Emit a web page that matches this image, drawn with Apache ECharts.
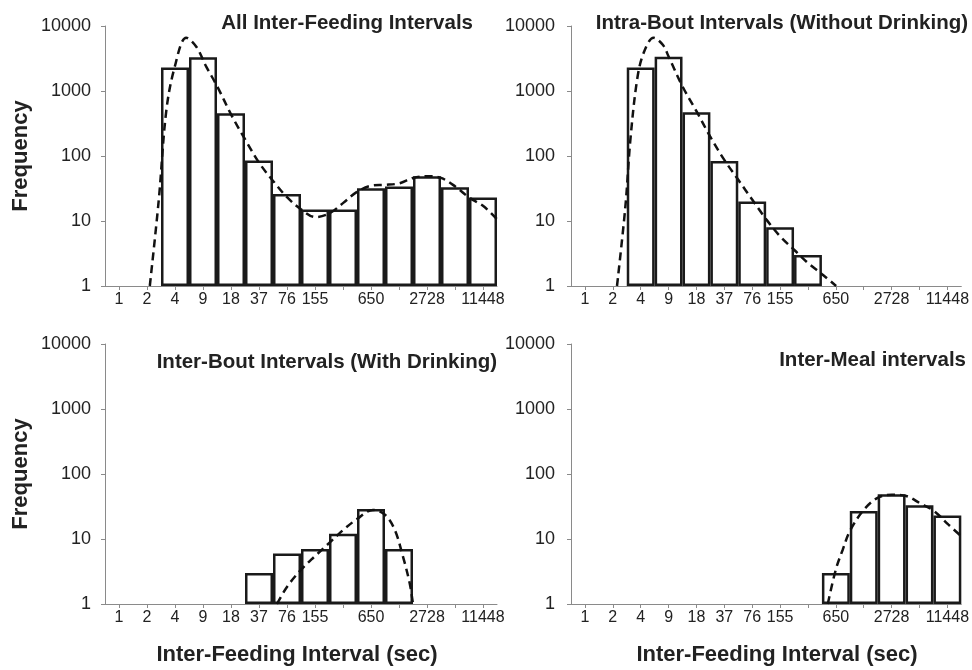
<!DOCTYPE html>
<html>
<head>
<meta charset="utf-8">
<script src="https://cdn.jsdelivr.net/npm/echarts@6/dist/echarts.min.js"></script>
<style>
html,body{margin:0;padding:0;background:#fff;}
#chart{width:972px;height:670px;}
</style>
</head>
<body>
<div id="chart"></div>
<script>
// ---- data ----
const categories = ['1','2','4','9','18','37','76','155','317','650','1332','2728','5588','11448'];
const hiddenLabels = [8, 10, 12];
const yTicks = [1, 10, 100, 1000, 10000];

const panelTitles = [
  'All Inter-Feeding Intervals',
  'Intra-Bout Intervals (Without Drinking)',
  'Inter-Bout Intervals (With Drinking)',
  'Inter-Meal intervals'
];
const yAxisTitle = 'Frequency';
const xAxisTitle = 'Inter-Feeding Interval (sec)';

const allBars      = [null, null, 2300, 3300, 455, 85, 26, 15, 15, 32, 34, 49, 33, 23];
const intraBars    = [null, null, 2300, 3350, 470, 84, 20, 8, 3, null, null, null, null, null];
const interBoutBars= [null, null, null, null, null, 3, 6, 7, 12, 29, 7, null, null, null];
const interMealBars= [null, null, null, null, null, null, null, null, null, 3, 27, 49, 33, 23];

// fitted curves: [category position, frequency]
const allFit = [[1.1,1],[1.42,21],[1.69,500],[1.99,2350],[2.4,6600],[2.76,4800],[3.12,2350],[3.51,1175],[4.01,430],[4.51,178],[5.01,78],[5.51,41],[6.01,23],[6.51,15],[7.01,11.5],[7.5,13],[8.01,19],[8.5,28],[9.01,35],[9.5,36],[10.01,38],[10.5,46],[11.01,49],[11.5,46],[12.01,34],[12.5,23],[13.01,17],[13.51,10.5]];
const intraFit = [[1.15,1],[1.45,16.6],[1.63,178],[1.87,1480],[2.1,3800],[2.46,6600],[2.8,5100],[3.0,3390],[3.5,1175],[4.01,480],[4.49,200],[5.0,87],[5.5,43],[6.01,21],[6.51,10.5],[7.01,5.75],[7.52,3.55],[8.01,2.24],[8.54,1.48],[9.01,1]];
const interBoutFit = [[5.64,1],[6.01,1.86],[6.51,3.4],[7.01,5.5],[7.51,8.7],[8.01,13.8],[8.51,20.4],[9.07,28],[9.51,23.4],[9.85,13.8],[10.14,5.4],[10.38,2.1],[10.5,1]];
const interMealFit = [[8.71,1],[9.0,3.4],[9.25,6.9],[9.5,13.2],[10.0,28],[10.5,43],[11.01,48],[11.52,46],[12.02,35.5],[12.52,27],[13.04,16.6],[13.55,10.5]];

const barSets = [allBars, intraBars, interBoutBars, interMealBars];
const fitSets = [allFit, intraFit, interBoutFit, interMealFit];

// ---- layout ----
const FONT = 'Liberation Sans, Arial, Helvetica, sans-serif';
const TXT = '#222';
const AX = '#8a8a8a';
const grids = [
  {left:105, top:26, width:392, height:260},
  {left:571, top:26, width:391, height:260},
  {left:105, top:344, width:392, height:260},
  {left:571, top:344, width:391, height:260}
];
const titlePos = [[473, 23], [968, 23], [497, 362], [966, 360]];

const xAxes = [], yAxes = [], series = [];
grids.forEach((g, i) => {
  xAxes.push({
    type:'category', gridIndex:i, data:categories,
    axisLine:{show:true, onZero:false, lineStyle:{color:AX, width:1}},
    axisTick:{show:true, alignWithLabel:true, interval:0, length:4, lineStyle:{color:AX}},
    axisLabel:{interval:(idx) => hiddenLabels.indexOf(idx) < 0, fontSize:16, color:TXT, fontFamily:FONT, margin:6},
    splitLine:{show:false}
  });
  yAxes.push({
    type:'log', logBase:10, gridIndex:i, min:yTicks[0], max:yTicks[yTicks.length-1],
    axisLine:{show:true, onZero:false, lineStyle:{color:AX, width:1}},
    axisTick:{show:true, length:4, lineStyle:{color:AX}},
    axisLabel:{fontSize:18, color:TXT, fontFamily:FONT, margin:i % 2 ? 16 : 14,
      formatter:(v) => String(Math.round(v))},
    splitLine:{show:false}
  });
});
grids.forEach((g, i) => {
  xAxes.push({type:'value', gridIndex:i, min:-0.5, max:13.5, show:false,
    axisLine:{onZero:false}});
});
grids.forEach((g, i) => {
  series.push({
    type:'bar', xAxisIndex:i, yAxisIndex:i, data:barSets[i],
    barCategoryGap:'0%', barGap:'0%',
    itemStyle:{color:'#fff', borderColor:'#1a1a1a', borderWidth:2.5},
    z:2
  });
  series.push({
    type:'line', xAxisIndex:4 + i, yAxisIndex:i, data:fitSets[i],
    smooth:0.35, showSymbol:false, symbol:'none', clip:true,
    lineStyle:{color:'#111', width:2.5, type:[8,5]},
    z:3
  });
});

const graphics = [];
panelTitles.forEach((t, i) => {
  graphics.push({type:'text', x:titlePos[i][0], y:titlePos[i][1], z:10,
    style:{text:t, font:'bold 20.5px ' + FONT, fill:TXT, textAlign:'right', textVerticalAlign:'middle'}});
});
[[21, 156], [21, 474]].forEach(p => {
  graphics.push({type:'text', x:p[0], y:p[1], rotation:Math.PI/2, z:10,
    style:{text:yAxisTitle, font:'bold 22px ' + FONT, fill:TXT, textAlign:'center', textVerticalAlign:'middle'}});
});
[[297, 655], [777, 655]].forEach(p => {
  graphics.push({type:'text', x:p[0], y:p[1], z:10,
    style:{text:xAxisTitle, font:'bold 22px ' + FONT, fill:TXT, textAlign:'center', textVerticalAlign:'middle'}});
});

const chart = echarts.init(document.getElementById('chart'), null, {renderer:'canvas'});
chart.setOption({
  animation:false,
  backgroundColor:'#fff',
  textStyle:{fontFamily:FONT},
  grid:grids,
  xAxis:xAxes,
  yAxis:yAxes,
  series:series,
  graphic:graphics
});
</script>
</body>
</html>
